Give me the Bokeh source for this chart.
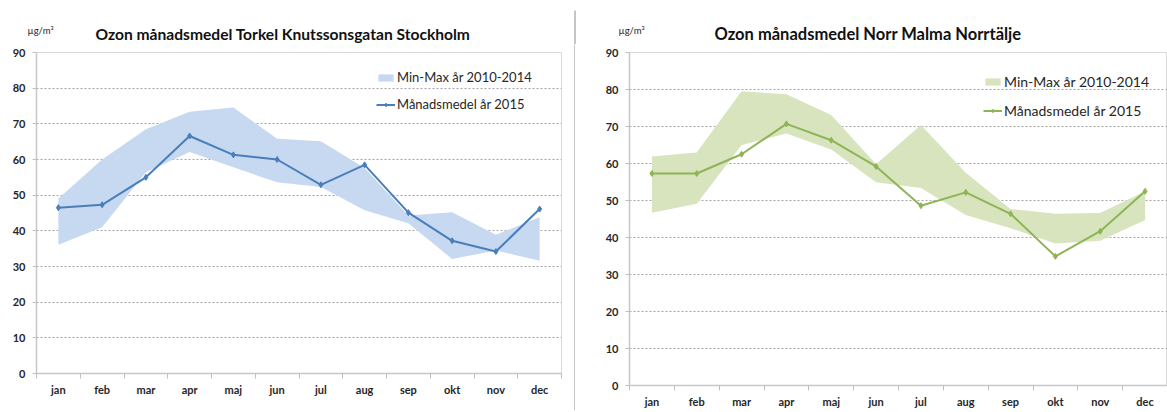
from bokeh.plotting import figure
from bokeh.layouts import row, column
from bokeh.models import Range1d, FixedTicker, Legend, LegendItem
from bokeh.core.properties import value
from bokeh.embed import file_html
from bokeh.resources import INLINE

months = ["jan", "feb", "mar", "apr", "maj", "jun", "jul", "aug", "sep", "okt", "nov", "dec"]
y_ticks = [0, 10, 20, 30, 40, 50, 60, 70, 80, 90]
grid_ticks = [10, 20, 30, 40, 50, 60, 70, 80]

# Torkel Knutssonsgatan Stockholm
sthlm_mean = [46.5, 47.3, 55.0, 66.6, 61.3, 60.0, 52.9, 58.5, 45.1, 37.2, 34.2, 46.1]
sthlm_max = [49.1, 60.0, 68.5, 73.4, 74.6, 65.8, 65.1, 57.6, 44.3, 45.2, 38.9, 43.8]
sthlm_min = [36.1, 41.0, 56.4, 62.1, 57.8, 53.6, 52.3, 45.8, 42.1, 32.1, 34.5, 31.6]

# Norr Malma Norrtälje
norr_mean = [57.3, 57.3, 62.5, 70.7, 66.3, 59.2, 48.6, 52.2, 46.4, 34.9, 41.7, 52.5]
norr_max = [61.9, 63.0, 79.5, 78.7, 73.1, 59.8, 70.4, 57.5, 47.7, 46.4, 46.6, 52.5]
norr_min = [46.7, 49.1, 65.0, 68.1, 63.8, 54.9, 53.4, 46.1, 42.5, 38.4, 39.1, 44.7]

title_left = "Ozon månadsmedel Torkel Knutssonsgatan Stockholm"
title_right = "Ozon månadsmedel Norr Malma Norrtälje"
band_label = "Min-Max år 2010-2014"
line_label = "Månadsmedel år 2015"
unit_label = "µg/m³"

FONT = "Lato"
TXT = "#262626"
SEP_COLOR = "#8c8c8c"
H = 410
HEAD = 44
W1, W2 = 574, 592
WT = W1 + 1 + W2

# ---- header strip (titles and unit labels) ----
head = figure(width=WT, height=HEAD, x_range=Range1d(0, WT), y_range=Range1d(0, HEAD),
              output_backend="svg", toolbar_location=None,
              x_axis_type=None, y_axis_type=None, min_border=0)
head.title = None
head.outline_line_color = None
head.text(x=[95], y=[HEAD - 33], text=[title_left], text_font=value(FONT),
          text_font_style="bold", text_font_size="15.6px", text_align="left",
          text_baseline="middle", text_color="#111111")
head.text(x=[714], y=[HEAD - 33], text=[title_right], text_font=value(FONT),
          text_font_style="bold", text_font_size="16.5px", text_align="left",
          text_baseline="middle", text_color="#111111")
head.text(x=[27, 618], y=[HEAD - 30, HEAD - 30], text=[unit_label, unit_label],
          text_font=value(FONT), text_font_size="9.5px", text_align="left",
          text_baseline="middle", text_color=TXT)
head.segment(x0=[W1 + 0.5], y0=[0], x1=[W1 + 0.5], y1=[HEAD - 10],
             line_color=SEP_COLOR, line_width=1)

# ---- thin vertical separator below the header ----
sep = figure(width=1, height=H - HEAD, output_backend="svg", toolbar_location=None,
             x_axis_type=None, y_axis_type=None, min_border=0)
sep.title = None
sep.outline_line_color = None
sep.background_fill_color = SEP_COLOR
sep.border_fill_color = SEP_COLOR


def make_chart(mean, lo, hi, band_color, line_color, width, mleft, mright,
               frame_bottom, legend_loc, legend_spacing, legend_size):
    n = len(months)
    xs = [i + 0.5 for i in range(n)]
    p = figure(width=width, height=H - HEAD, x_range=Range1d(0, n),
               y_range=Range1d(0, 90), output_backend="svg", toolbar_location=None,
               min_border_left=mleft, min_border_right=mright,
               min_border_top=52 - HEAD, min_border_bottom=H - frame_bottom)
    p.title = None
    p.background_fill_color = "white"
    p.border_fill_color = "white"
    p.outline_line_color = "#d9d9d9"
    p.outline_line_width = 1

    # x axis: labels at month centres, tick marks at month boundaries
    xa = p.xaxis[0]
    xa.ticker = FixedTicker(ticks=xs, minor_ticks=list(range(n + 1)))
    xa.major_label_overrides = {x: m for x, m in zip(xs, months)}
    xa.major_tick_line_color = None
    xa.minor_tick_line_color = "#bfbfbf"
    xa.minor_tick_out = 5
    xa.minor_tick_in = 0
    xa.axis_line_color = "#c8c8c8"
    xa.axis_line_width = 1.5
    xa.major_label_standoff = 3
    xa.major_label_text_font = FONT
    xa.major_label_text_font_style = "bold"
    xa.major_label_text_font_size = "11px"
    xa.major_label_text_color = TXT

    ya = p.yaxis[0]
    ya.ticker = FixedTicker(ticks=y_ticks)
    ya.minor_tick_line_color = None
    ya.major_tick_line_color = "#bfbfbf"
    ya.major_tick_out = 4
    ya.major_tick_in = 0
    ya.axis_line_color = "#c8c8c8"
    ya.axis_line_width = 1.5
    ya.major_label_standoff = 7
    ya.major_label_text_font = FONT
    ya.major_label_text_font_style = "bold"
    ya.major_label_text_font_size = "11px"
    ya.major_label_text_color = TXT

    p.xgrid.visible = False
    p.ygrid.ticker = FixedTicker(ticks=grid_ticks)
    p.ygrid.grid_line_color = "#a6a6a6"
    p.ygrid.grid_line_dash = "2 2"
    p.ygrid.grid_line_width = 1

    band = p.varea(x=xs, y1=lo, y2=hi, fill_color=band_color, fill_alpha=1.0)
    ln = p.line(xs, mean, line_color=line_color, line_width=2)
    pts = p.scatter(xs, mean, marker="diamond", size=6, fill_color=line_color,
                    line_color=line_color)

    legend = Legend(items=[LegendItem(label=band_label, renderers=[band]),
                           LegendItem(label=line_label, renderers=[ln, pts])],
                    location=legend_loc, glyph_width=19, glyph_height=9,
                    label_height=18, label_standoff=2, spacing=legend_spacing,
                    padding=0, margin=0, border_line_color=None,
                    background_fill_alpha=0, label_text_font=FONT,
                    label_text_font_size=legend_size, label_text_color=TXT)
    p.add_layout(legend)
    return p


p1 = make_chart(sthlm_mean, sthlm_min, sthlm_max, "#c6d9f1", "#4a7ebb",
                width=W1, mleft=36, mright=13, frame_bottom=373,
                legend_loc=(340, 260), legend_spacing=9, legend_size="13px")

p2 = make_chart(norr_mean, norr_min, norr_max, "#d7e4bd", "#8fb456",
                width=W2, mleft=54, mright=0, frame_bottom=385,
                legend_loc=(354, 266), legend_spacing=11, legend_size="14px")

layout = column(head, row(column(p1), column(sep), column(p2)))

with open("out.html", "w") as f:
    f.write(file_html(layout, INLINE))
